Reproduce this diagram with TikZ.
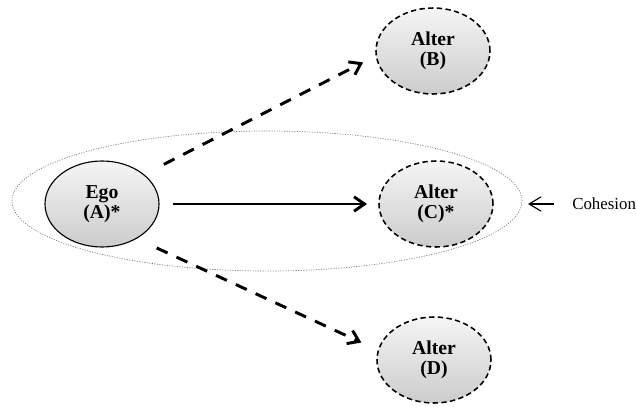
\documentclass[tikz,border=0pt]{standalone}
\usepackage{fontspec}
\setmainfont{Liberation Serif}
\usetikzlibrary{shapes.geometric,arrows.meta}

\begin{document}
\begin{tikzpicture}[
    actor/.style={ellipse, minimum width=2.85cm, minimum height=2.15cm, inner sep=0pt,
      top color=gray!8, bottom color=gray!40, align=center,
      font=\fontsize{14}{14.5}\selectfont\bfseries},
    egobox/.style={actor, draw, line width=0.8pt},
    alterbox/.style={actor, draw, line width=1.1pt, dash pattern=on 3.8pt off 2.4pt},
    tie/.style={line width=2.1pt, -{Straight Barb[length=2.6mm,width=3.6mm]}},
    weaktie/.style={tie, dash pattern=on 8.5pt off 7pt}
  ]
    \useasboundingbox (0,0) rectangle (15.925,10.15);

    % Cohesion boundary round ego and alter C
    \draw[gray, line width=0.5pt, dash pattern=on 0.8pt off 1pt] (6.675,5.125) ellipse (6.375cm and 1.75cm);

    % Ego and alters
    \node[egobox] (ego) at (2.55,5.05) {Ego\\(A)*};
    \node[alterbox] (altB) at (10.825,8.875) {Alter\\(B)};
    \node[alterbox] (altC) at (10.9,5.05) {Alter\\(C)*};
    \node[alterbox] (altD) at (10.85,1.15) {Alter\\(D)};

    % Ties
    \draw[weaktie, shorten <=0.55cm, shorten >=0.35cm] (ego.35) -- (altB.185);
    \draw[tie, shorten <=0.33cm, shorten >=0.28cm] (ego.east) -- (altC.west);
    \draw[weaktie, shorten <=0.55cm, shorten >=0.45cm] (ego.-45) -- (altD.170);

    % Label
    \node[anchor=west, inner sep=0pt, font=\fontsize{12}{14}\selectfont] (cohesion) at (14.3,5.05) {Cohesion};
    \coordinate (cohtip) at (13.2,5.05);
    \draw[line width=0.8pt, -{Straight Barb[length=3mm,width=3.6mm]}, shorten <=0.45cm] (cohesion.west) -- (cohtip);
\end{tikzpicture}
\end{document}
